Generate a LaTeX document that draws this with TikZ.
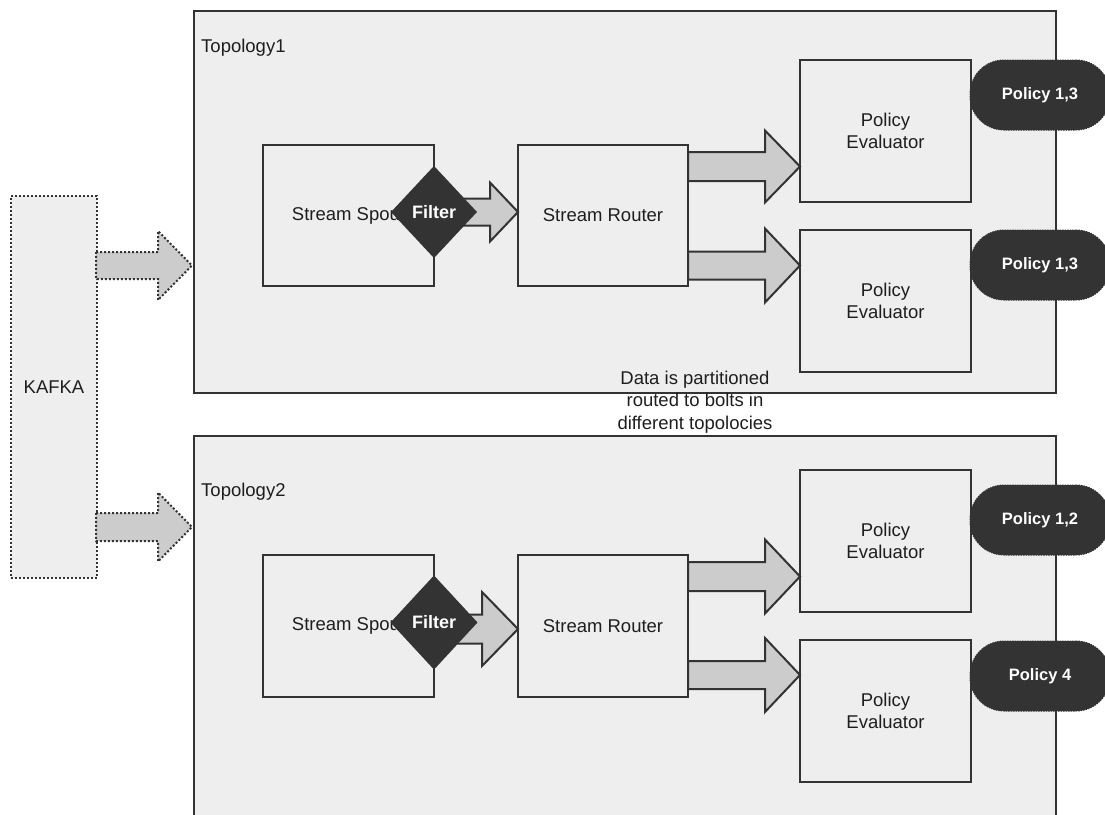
\documentclass[tikz,border=0pt]{standalone}
\usepackage{fontspec}
\setmainfont{Liberation Sans}
\usetikzlibrary{calc,shapes.geometric}
\definecolor{boxfill}{HTML}{EEEEEE}
\definecolor{arrfill}{HTML}{CCCCCC}
\definecolor{dark}{HTML}{333333}
\definecolor{txt}{HTML}{1E1E1E}
\newcommand\blockarrow[6]{%
  \draw[#1] let \p1=#2, \p2=#3 in
    (\x1,\y1+#4pt) -- (\x2-#6pt,\y1+#4pt) -- (\x2-#6pt,\y1+#5pt) -- (\x2,\y2)
    -- (\x2-#6pt,\y1-#5pt) -- (\x2-#6pt,\y1-#4pt) -- (\x1,\y1-#4pt) -- cycle;}
\begin{document}
\begin{tikzpicture}[x=1pt,y=-1pt,
  every node/.style={font=\fontsize{18.5}{22.5}\selectfont, text=txt},
  frame/.style={draw=dark, fill=boxfill, line width=2pt, anchor=north west, inner sep=0pt},
  dotframe/.style={frame, dash pattern=on 2pt off 2pt},
  comp/.style={frame, align=center, anchor=center},
  blk/.style={draw=dark, fill=arrfill, line width=2pt, line join=miter},
  dotblk/.style={blk, dash pattern=on 2pt off 2pt},
  filterdia/.style={diamond, fill=dark, draw=dark, line width=1pt, inner sep=0pt, minimum width=85pt, minimum height=91pt, text=white, font=\fontsize{18}{22}\selectfont\bfseries},
  pill/.style={rounded corners=34pt, fill=dark, draw=dark, line width=1pt, dash pattern=on 1.5pt off 1pt, minimum width=140pt, minimum height=70pt, inner sep=0pt, text=white, font=\fontsize{16.5}{20}\selectfont\bfseries},
  lbl/.style={anchor=west, inner sep=0pt}]
\useasboundingbox (0,0) rectangle (1105,814);
\begin{scope}
\clip (0,0) rectangle (1105,814);
% topology frames
\node[frame, minimum width=862pt, minimum height=382pt] (top1) at (193,10) {};
\node[frame, minimum width=862pt, minimum height=420pt] (top2) at (193,435) {};
% kafka
\node[dotframe, minimum width=86pt, minimum height=382pt] (kafka) at (10,195) {};
\node at (kafka.center) {KAFKA};
\coordinate (ka1s) at (96,265.5);
\coordinate (ka1e) at (192,265.5);
\coordinate (ka2s) at (96,527);
\coordinate (ka2e) at (192,527);
\blockarrow{dotblk}{(ka1s)}{(ka1e)}{13.5}{34.5}{34}
\blockarrow{dotblk}{(ka2s)}{(ka2e)}{14}{34.5}{34}
% top row
\node[comp, minimum width=171pt, minimum height=141pt] (spout1) at (348.5,215.5) {Stream Spout};
\node[comp, minimum width=170pt, minimum height=141pt] (router1) at (603,215.5) {Stream Router};
\node[comp, minimum width=171pt, minimum height=142pt] (pe1) at (885.5,131) {Policy\\Evaluator};
\node[comp, minimum width=171pt, minimum height=142pt] (pe2) at (885.5,301) {Policy\\Evaluator};
\coordinate (f1s) at (455,212);
\coordinate (f1e) at (518,212);
\blockarrow{blk}{(f1s)}{(f1e)}{13.5}{29.5}{28}
\node[filterdia] (filter1) at (434,212) {Filter};
\coordinate (r1s) at (688,166.5);
\coordinate (r1e) at (800,166.5);
\coordinate (r2s) at (688,265.5);
\coordinate (r2e) at (800,265.5);
\blockarrow{blk}{(r1s)}{(r1e)}{14.5}{36}{35}
\blockarrow{blk}{(r2s)}{(r2e)}{14}{37}{35}
% bottom row
\node[comp, minimum width=171pt, minimum height=142pt] (spout2) at (348.5,626) {Stream Spout};
\node[comp, minimum width=170pt, minimum height=142pt] (router2) at (603,626) {Stream Router};
\node[comp, minimum width=171pt, minimum height=142pt] (pe3) at (885.5,541) {Policy\\Evaluator};
\node[comp, minimum width=171pt, minimum height=142pt] (pe4) at (885.5,711) {Policy\\Evaluator};
\coordinate (f2s) at (455,629);
\coordinate (f2e) at (518,629);
\blockarrow{blk}{(f2s)}{(f2e)}{14.5}{37}{36}
\node[filterdia, minimum height=93pt, minimum width=86pt] (filter2) at (434,622.5) {Filter};
\coordinate (r3s) at (688,576.5);
\coordinate (r3e) at (800,576.5);
\coordinate (r4s) at (688,675);
\coordinate (r4e) at (800,675);
\blockarrow{blk}{(r3s)}{(r3e)}{14.5}{37}{35}
\blockarrow{blk}{(r4s)}{(r4e)}{14}{37}{35}
% policies
\node[pill] (pol1) at (1040,95) {Policy 1,3};
\node[pill] (pol2) at (1040,265) {Policy 1,3};
\node[pill] (pol3) at (1040,520) {Policy 1,2};
\node[pill] (pol4) at (1040,676) {Policy 4};
% labels
\node[lbl] (lab1) at (201,48) {Topology1};
\node[lbl] (lab2) at (201,492) {Topology2};
\node[align=center, inner sep=0pt] (data) at (695,402) {Data is partitioned\\routed to bolts in\\different topolocies};
\end{scope}
\end{tikzpicture}
\end{document}
